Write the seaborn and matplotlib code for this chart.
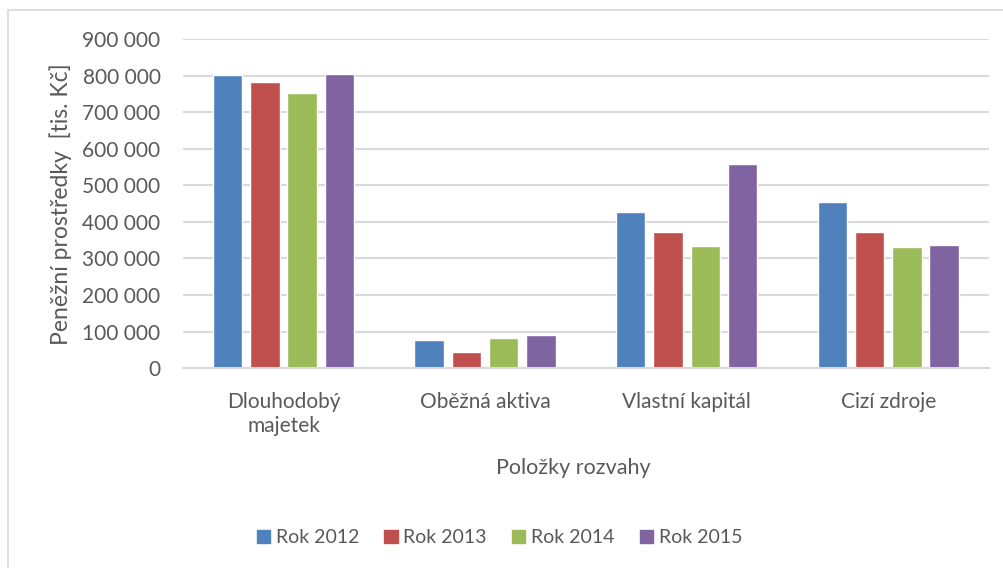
import matplotlib
matplotlib.use("Agg")
import matplotlib.pyplot as plt
import matplotlib.patches as mpatches
from matplotlib.ticker import FuncFormatter
import seaborn as sns
import pandas as pd

# Balance-sheet items and yearly values (thousands CZK)
categories = ["Dlouhodobý\nmajetek", "Oběžná aktiva", "Vlastní kapitál", "Cizí zdroje"]
years = ["Rok 2012", "Rok 2013", "Rok 2014", "Rok 2015"]
rok_2012 = [802000, 78000, 426000, 454000]
rok_2013 = [783000, 45000, 372000, 371000]
rok_2014 = [754000, 81000, 333000, 332000]
rok_2015 = [805000, 91000, 558000, 338000]
colors = ["#4F81BD", "#C0504D", "#9BBB59", "#8064A2"]

series = [rok_2012, rok_2013, rok_2014, rok_2015]
rows = []
for year, vals in zip(years, series):
    for cat, v in zip(categories, vals):
        rows.append({"Položka": cat, "Rok": year, "Hodnota": v})
df = pd.DataFrame(rows)

sns.set_theme(style="white")
plt.rcParams["font.family"] = ["Lato", "DejaVu Sans"]
text_color = "#595959"
grid_color = "#D9D9D9"

fig = plt.figure(figsize=(10.04, 5.68), dpi=100)
ax = fig.add_axes([0.182, 0.352, 0.803, 0.579])

sns.barplot(data=df, x="Položka", y="Hodnota", hue="Rok", order=categories,
            hue_order=years, palette=colors, width=0.74, gap=0.21,
            saturation=1, ax=ax, legend=False)

ax.set_ylim(0, 900000)
ax.set_xlim(-0.5, 3.5)
ax.set_yticks(range(0, 900001, 100000))
ax.yaxis.set_major_formatter(FuncFormatter(lambda v, p: f"{int(v):,}".replace(",", " ")))
ax.yaxis.grid(True, color=grid_color, linewidth=1.5)
ax.set_axisbelow(True)
for side in ["top", "right", "left"]:
    ax.spines[side].set_visible(False)
ax.spines["bottom"].set_color(grid_color)
ax.spines["bottom"].set_linewidth(1.5)

ax.tick_params(axis="y", length=0, pad=16, labelsize=15, labelcolor=text_color)
ax.tick_params(axis="x", length=0, pad=17, labelsize=15, labelcolor=text_color)
for lbl in ax.get_xticklabels():
    lbl.set_linespacing(1.25)

ax.set_ylabel("Peněžní prostředky  [tis. Kč]", fontsize=16.5, color=text_color)
ax.yaxis.set_label_coords(-0.137, 0.5)
ax.set_xlabel("Položky rozvahy", fontsize=15.5, color=text_color)
ax.xaxis.set_label_coords(0.485, -0.272)

handles = [mpatches.Patch(color=c, label=y) for c, y in zip(colors, years)]
leg = fig.legend(handles=handles, loc="center", bbox_to_anchor=(0.4975, 0.053),
                 ncol=4, frameon=False, fontsize=14, handlelength=0.67,
                 handleheight=0.67, handletextpad=0.3, columnspacing=1.3)
for t in leg.get_texts():
    t.set_color(text_color)

# Light chart-area border (runs off the right and bottom edges)
fig.patches.append(mpatches.Rectangle((8 / 1004, -0.05), 1.1, 1 - 10 / 568 + 0.05,
                                      transform=fig.transFigure, fill=False,
                                      edgecolor=grid_color, linewidth=1.2))

fig.savefig("out.png", dpi=100)
